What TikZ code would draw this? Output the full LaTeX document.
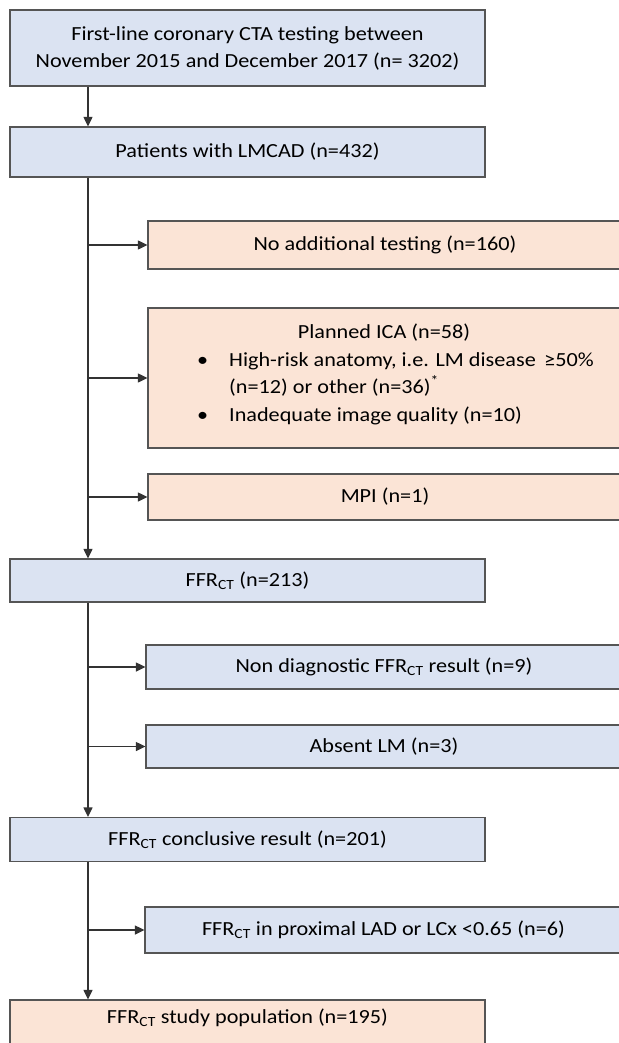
\documentclass[tikz,border=0pt]{standalone}
\usepackage{fontspec}
\setmainfont[FakeStretch=1.11]{Carlito}
\usetikzlibrary{arrows.meta}
\definecolor{bluefill}{RGB}{219,227,242}
\definecolor{orangefill}{RGB}{251,228,214}
\definecolor{edgegray}{RGB}{85,85,85}
\begin{document}
\begin{tikzpicture}[x=1pt,y=-1pt,
  box/.style={draw=edgegray, line width=1.2pt, inner sep=0pt, align=center,
    font=\fontsize{20}{27}\selectfont},
  bbox/.style={box, fill=bluefill},
  obox/.style={box, fill=orangefill},
  txt/.style={inner sep=0pt, anchor=base west, font=\fontsize{20}{27}\selectfont},
  arr/.style={-{Triangle[length=9.5pt,width=9pt]}, line width=1.2pt, draw=black!80}]
\useasboundingbox (0,0) rectangle (618,1043);
% main column
\node[bbox, minimum width=475pt, minimum height=76pt] (b1) at (247.5,48)
  {First-line coronary CTA testing between\\November 2015 and December 2017 (n= 3202)};
\node[bbox, minimum width=475pt, minimum height=50pt] (b2) at (247.5,152)
  {Patients with LMCAD (n=432)};
\node[bbox, minimum width=475pt, minimum height=43pt] (b3) at (247.5,580.5)
  {FFR\textsubscript{CT} (n=213)};
\node[bbox, minimum width=475pt, minimum height=44pt] (b4) at (247.5,839.5)
  {FFR\textsubscript{CT} conclusive result (n=201)};
\node[obox, minimum width=475pt, minimum height=46pt] (b5) at (247.5,1023)
  {\raisebox{13pt}{FFR\textsubscript{CT} study population (n=195)}};
% side boxes
\node[obox, minimum width=474pt, minimum height=48pt] (s1) at (385,245)
  {No additional testing (n=160)};
\node[obox, minimum width=474pt, minimum height=140pt] (s2) at (385,378) {};
\node[txt, anchor=base] (s2t) at (384,338) {Planned ICA (n=58)};
\node[txt] (s2b1) at (197,366) {•};
\node[txt] (s2l1) at (229,366) {High-risk anatomy, i.e. LM disease\, ≥50\%};
\node[txt] (s2l2) at (229,393) {(n=12) or other (n=36)\textsuperscript{*}};
\node[txt] (s2b2) at (197,421) {•};
\node[txt] (s2l3) at (229,421) {Inadequate image quality (n=10)};
\node[obox, minimum width=474pt, minimum height=46pt] (s3) at (385,497)
  {MPI (n=1)};
\node[bbox, minimum width=476pt, minimum height=44pt] (s4) at (384,667)
  {Non diagnostic FFR\textsubscript{CT} result (n=9)};
\node[bbox, minimum width=476pt, minimum height=43pt] (s5) at (384,746.5)
  {Absent LM (n=3)};
\node[bbox, minimum width=477pt, minimum height=46pt] (s6) at (383.5,930)
  {FFR\textsubscript{CT} in proximal LAD or LCx <0.65 (n=6)};
% trunk x
\coordinate (tx) at (88,0);
\draw[arr] (b1.south -| tx) -- (b2.north -| tx);
\draw[arr] (b2.south -| tx) -- (b3.north -| tx);
\draw[arr] (b3.south -| tx) -- (b4.north -| tx);
\draw[arr] (b4.south -| tx) -- (b5.north -| tx);
% branches
\draw[arr] (s1.west -| tx) -- (s1.west);
\draw[arr] (s2.west -| tx) -- (s2.west);
\draw[arr] (s3.west -| tx) -- (s3.west);
\draw[arr] (s4.west -| tx) -- (s4.west);
\draw[arr] (s5.west -| tx) -- (s5.west);
\draw[arr] (s6.west -| tx) -- (s6.west);
\end{tikzpicture}
\end{document}
